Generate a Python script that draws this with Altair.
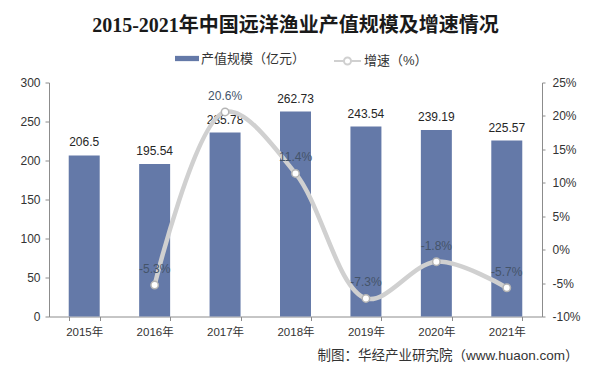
import altair as alt
import pandas as pd

years = ["2015年", "2016年", "2017年", "2018年", "2019年", "2020年", "2021年"]
output_value = [206.5, 195.54, 235.78, 262.73, 243.54, 239.19, 225.57]
output_label = ["206.5", "195.54", "235.78", "262.73", "243.54", "239.19", "225.57"]
growth = [None, -5.3, 20.6, 11.4, -7.3, -1.8, -5.7]
growth_label = ["", "-5.3%", "20.6%", "11.4%", "-7.3%", "-1.8%", "-5.7%"]
left_ticks = [0, 50, 100, 150, 200, 250, 300]
right_ticks = [-10, -5, 0, 5, 10, 15, 20, 25]

BAR_NAME = "产值规模（亿元）"
LINE_NAME = "增速（%）"
TITLE = "2015-2021年中国远洋渔业产值规模及增速情况"
SOURCE = "制图：华经产业研究院（www.huaon.com）"

df = pd.DataFrame({
    "year": years,
    "value": output_value,
    "vlabel": output_label,
    "growth": growth,
    "glabel": growth_label,
    "bar_series": [BAR_NAME] * len(years),
    "line_series": [LINE_NAME] * len(years),
})

SANS = "Liberation Sans, Noto Sans CJK SC, sans-serif"
BAR_COLOR = "#6479a8"
LINE_COLOR = "#d0d0d0"
AXIS_COLOR = "#8c8c8c"
TEXT_COLOR = "#333333"

x_enc = alt.X(
    "year:N",
    sort=years,
    scale=alt.Scale(paddingInner=0.56, paddingOuter=0.28),
    axis=alt.Axis(
        title=SOURCE,
        titleX=529,
        titleY=39,
        titleAlign="right",
        titleBaseline="middle",
        titleFont=SANS,
        titleFontSize=13.5,
        titleFontWeight="normal",
        titleColor=TEXT_COLOR,
        labelAngle=0,
        labelFont=SANS,
        labelFontSize=11.5,
        labelColor=TEXT_COLOR,
        labelPadding=6,
        tickBand="extent",
        tickSize=4,
        tickColor=AXIS_COLOR,
        domainColor=AXIS_COLOR,
        grid=False,
    ),
)

vy = alt.Y(
    "value:Q",
    scale=alt.Scale(domain=[0, 300], nice=False),
    axis=alt.Axis(
        title=None,
        values=left_ticks,
        labelFont=SANS,
        labelFontSize=12,
        labelColor=TEXT_COLOR,
        labelPadding=5,
        tickSize=4,
        tickColor=AXIS_COLOR,
        domainColor=AXIS_COLOR,
        grid=False,
    ),
)

gy = alt.Y(
    "growth:Q",
    scale=alt.Scale(domain=[-10, 25], nice=False),
    axis=alt.Axis(
        title=None,
        orient="right",
        values=right_ticks,
        labelExpr="datum.value + '%'",
        labelFont=SANS,
        labelFontSize=12,
        labelColor=TEXT_COLOR,
        labelPadding=7,
        labelOverlap=False,
        tickSize=3,
        tickColor=AXIS_COLOR,
        domainColor=AXIS_COLOR,
        grid=False,
    ),
)

base = alt.Chart(df)

bars = base.mark_bar().encode(
    x=x_enc,
    y=vy,
    fill=alt.Fill(
        "bar_series:N",
        scale=alt.Scale(domain=[BAR_NAME], range=[BAR_COLOR]),
        legend=alt.Legend(
            title=None,
            orient="none",
            legendX=126,
            legendY=-36,
            padding=0,
            symbolType="M-1,-0.22H1V0.22H-1Z",
            symbolSize=576,
            symbolStrokeWidth=0,
            labelFont=SANS,
            labelFontSize=13,
            labelColor=TEXT_COLOR,
            labelOffset=2,
        ),
    ),
)

bar_text = base.mark_text(
    baseline="bottom", dy=-6, font=SANS, fontSize=12, color="#262626"
).encode(
    x=x_enc,
    y=vy,
    text="vlabel:N",
)

gbase = base.transform_filter("isValid(datum.growth)")

line = gbase.mark_line(interpolate="catmull-rom", strokeWidth=4.5).encode(
    x=x_enc,
    y=gy,
    stroke=alt.Stroke(
        "line_series:N",
        scale=alt.Scale(domain=[LINE_NAME], range=[LINE_COLOR]),
        legend=alt.Legend(
            title=None,
            orient="none",
            legendX=284,
            legendY=-36,
            padding=0,
            symbolType="M-1,0H-0.26M0.26,0H1M-0.26,0A0.26,0.26,0,1,0,0.26,0A0.26,0.26,0,1,0,-0.26,0",
            symbolSize=729,
            symbolStrokeWidth=2,
            symbolFillColor="white",
            labelFont=SANS,
            labelFontSize=13,
            labelColor=TEXT_COLOR,
            labelOffset=2,
        ),
    ),
)

points = gbase.mark_point(
    shape="circle", filled=True, fill="white", stroke="#b4b4b4", strokeWidth=1.5, size=55, opacity=1
).encode(
    x=x_enc,
    y=gy,
)

line_text = gbase.mark_text(
    baseline="bottom", dy=-9, font=SANS, fontSize=12, color="#44546a"
).encode(
    x=x_enc,
    y=gy,
    text="glabel:N",
)

left = alt.layer(bars, bar_text)
right = alt.layer(line, points, line_text)

chart = (
    alt.layer(left, right)
    .resolve_scale(y="independent")
    .properties(
        width=493,
        height=234,
        autosize=alt.AutoSizeParams(type="none"),
        padding={"left": 41, "top": 74.5, "right": 40, "bottom": 46},
        background="white",
        title=alt.TitleParams(
            TITLE,
            font="Liberation Serif, Noto Sans CJK SC, serif",
            fontSize=20,
            fontWeight="bold",
            color="#1a1a1a",
            anchor="middle",
            offset=11,
        ),
    )
    .configure_view(stroke=None)
)

chart.save("out.html", embed_options={"renderer": "svg", "actions": False})
